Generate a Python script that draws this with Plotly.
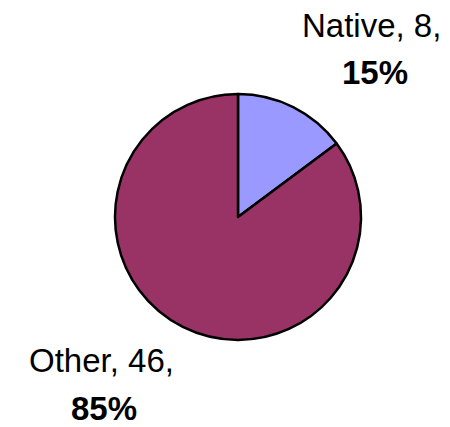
import plotly.graph_objects as go

labels = ["Native", "Other"]
values = [8, 46]
percents = ["15%", "85%"]
colors = ["#9999FF", "#993366"]

W, H = 450, 427
OFF = 8  # page body margin in the viewer
cx, cy, r = 238 - OFF, 217 - OFF, 123

def px(x):
    return (x - OFF) / W

def py(y):
    return 1 - (y - OFF) / H

fig = go.Figure(go.Pie(
    labels=labels, values=values, sort=False, direction="clockwise", rotation=0,
    marker=dict(colors=colors, line=dict(color="black", width=2.5)),
    textinfo="none", hoverinfo="label+value+percent", showlegend=False,
    domain=dict(x=[(cx - r) / W, (cx + r) / W], y=[1 - (cy + r) / H, 1 - (cy - r) / H]),
))

font = "Liberation Sans, Arial, sans-serif"
# (name line centre x, y, percent line centre x, y) in reference pixels
label_pos = [(371.5, 25.5, 375, 72.5), (101, 360.5, 103.5, 408)]
for (lab, val, pct), (x1, y1, x2, y2) in zip(zip(labels, values, percents), label_pos):
    fig.add_annotation(x=px(x1), y=py(y1), xref="paper", yref="paper", showarrow=False,
                       xanchor="center", yanchor="middle",
                       text=f"{lab}, {val},", font=dict(family=font, size=33, color="black"))
    fig.add_annotation(x=px(x2), y=py(y2), xref="paper", yref="paper", showarrow=False,
                       xanchor="center", yanchor="middle",
                       text=f"<b>{pct}</b>", font=dict(family=font, size=33, color="black"))

fig.update_layout(width=W, height=H, margin=dict(l=0, r=0, t=0, b=0),
                  paper_bgcolor="white", plot_bgcolor="white")
fig.write_html("out.html")
